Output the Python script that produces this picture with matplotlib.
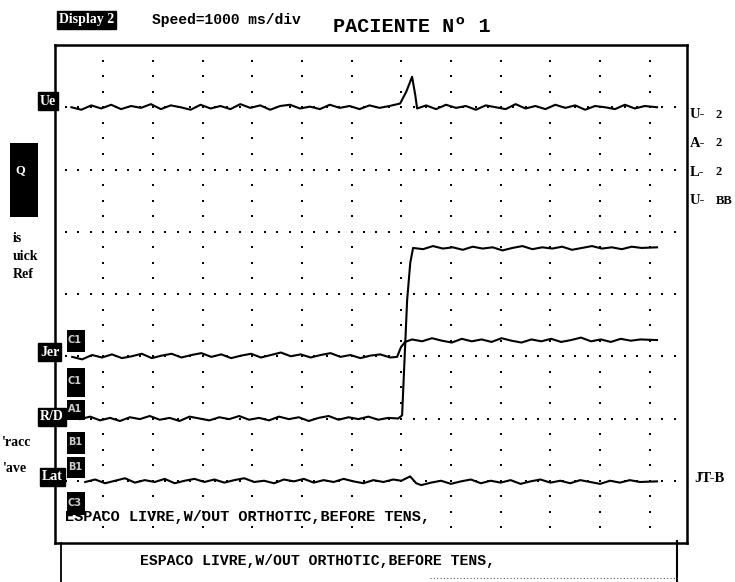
import numpy as np
import matplotlib.pyplot as plt
from matplotlib.patches import Rectangle

# trace data: time in ms (1000 ms/div), level in divisions (0 = bottom of screen)
t_ue = [360, 560, 760, 960, 1160, 1360, 1560, 1760, 1960, 2160, 2360, 2560, 2760, 2960, 3160, 3360, 3560,
        3760, 3960, 4160, 4360, 4560, 4760, 4960, 5160, 5360, 5560, 5760, 5960, 6160, 6360, 6560, 6760,
        6976, 7100, 7217, 7280, 7318,
        7500, 7700, 7900, 8100, 8300, 8500, 8700, 8900, 9100, 9300, 9500, 9700, 9900, 10100, 10300, 10500,
        10700, 10900, 11100, 11300, 11500, 11700, 11900, 12147]
v_ue = [7.0, 6.96, 7.03, 6.98, 7.04, 6.97, 7.02, 6.99, 7.05, 6.97, 7.03, 7.0, 6.96, 7.04, 6.98, 7.02, 6.97,
        7.05, 6.99, 7.03, 6.96, 7.02, 7.04, 6.98, 7.01, 6.97, 7.04, 6.99, 7.02, 6.97, 7.03, 6.99, 7.02,
        7.06, 7.25, 7.49, 7.2, 6.98,
        7.03, 6.97, 7.04, 6.99, 7.02, 6.96, 7.03, 7.0, 6.97, 7.05, 6.98, 7.02, 6.97, 7.04, 6.99, 7.03,
        6.96, 7.02, 7.0, 6.97, 7.04, 6.98, 7.02, 7.0]

t_jer = [376, 576, 776, 976, 1176, 1376, 1576, 1776, 1976, 2176, 2376, 2576, 2776, 2976, 3176, 3376, 3576,
         3776, 3976, 4176, 4376, 4576, 4776, 4976, 5176, 5376, 5576, 5776, 5976, 6176, 6376, 6576, 6776,
         6915, 6996, 7077, 7217,
         7417, 7617, 7817, 8017, 8217, 8417, 8617, 8817, 9017, 9217, 9417, 9617, 9817, 10017, 10217, 10417,
         10617, 10817, 11017, 11217, 11417, 11617, 11817, 12147]
v_jer = [2.99, 2.95, 3.02, 2.98, 3.03, 2.97, 3.0, 3.04, 2.97, 3.01, 3.04, 2.98, 3.02, 3.05, 2.99, 3.03, 2.97,
         3.01, 3.04, 2.98, 3.02, 3.06, 3.0, 3.03, 2.98, 3.02, 3.05, 2.99, 3.02, 2.97, 3.01, 3.03, 2.98,
         2.99, 3.15, 3.23, 3.27,
         3.24, 3.29, 3.25, 3.22, 3.28, 3.24, 3.27, 3.23, 3.29, 3.25, 3.22, 3.27, 3.24, 3.28, 3.23, 3.26,
         3.3, 3.24, 3.27, 3.23, 3.28, 3.25, 3.27, 3.26]

t_rd = [537, 737, 937, 1137, 1337, 1537, 1737, 1937, 2137, 2337, 2537, 2737, 2937, 3137, 3337, 3537,
        3737, 3937, 4137, 4337, 4537, 4737, 4937, 5137, 5337, 5537, 5737, 5937, 6137, 6337, 6537, 6737,
        6936, 7016, 7117, 7180, 7237,
        7437, 7637, 7837, 8037, 8237, 8437, 8637, 8837, 9037, 9237, 9437, 9637, 9837, 10037, 10237, 10437,
        10637, 10837, 11037, 11237, 11437, 11637, 11837, 12147]
v_rd = [1.99, 2.03, 1.97, 2.01, 1.96, 2.02, 1.99, 2.04, 1.98, 2.01, 1.96, 2.03, 2.0, 1.97, 2.02, 1.99,
        2.04, 1.98, 2.01, 1.97, 2.03, 1.99, 2.02, 1.96, 2.01, 2.04, 1.98, 2.02, 1.99, 2.03, 1.98, 2.01,
        2.0, 2.05, 3.9, 4.5, 4.74,
        4.72, 4.77, 4.73, 4.75, 4.71, 4.76, 4.73, 4.75, 4.7, 4.74, 4.77, 4.72, 4.75, 4.73, 4.76, 4.71,
        4.74, 4.77, 4.73, 4.75, 4.72, 4.76, 4.74, 4.75]

t_lat = [638, 838, 1038, 1238, 1438, 1638, 1838, 2038, 2238, 2438, 2638, 2838, 3038, 3238, 3438, 3638,
         3838, 4038, 4238, 4438, 4638, 4838, 5038, 5238, 5438, 5638, 5838, 6038, 6238, 6438, 6638, 6838,
         7000, 7177, 7300, 7400,
         7600, 7800, 8000, 8200, 8400, 8600, 8800, 9000, 9200, 9400, 9600, 9800, 10000, 10200, 10400,
         10600, 10800, 11000, 11200, 11400, 11600, 11800, 12147]
v_lat = [0.98, 1.02, 0.96, 1.0, 1.04, 0.97, 1.01, 0.98, 1.03, 0.96, 1.0, 1.03, 0.98, 1.02, 0.97, 1.01,
         1.04, 0.98, 1.0, 0.96, 1.02, 0.99, 1.03, 0.97, 1.01, 0.98, 1.03, 0.99, 0.96, 1.01, 0.98, 1.02,
         1.0, 1.07, 0.96, 0.93,
         0.97, 1.0, 0.95, 0.99, 1.02, 0.96, 1.0, 0.97, 1.01, 0.95, 0.99, 1.02, 0.97, 1.0, 0.96,
         1.01, 0.98, 0.95, 1.0, 0.97, 1.01, 0.98, 0.99]

header = "Speed=1000 ms/div"
title = "PACIENTE Nº 1"
comment = "ESPACO LIVRE,W/OUT ORTHOTIC,BEFORE TENS,"
right_labels = [("U-", "2"), ("A-", "2"), ("L-", "2"), ("U-", "BB")]

W, H = 735, 582
fig = plt.figure(figsize=(W / 100, H / 100), dpi=100)
ax = fig.add_axes([55 / W, 1 - 543 / H, 632 / W, 498 / H])
ax.set_xlim(30, 12750)
ax.set_ylim(0, 8)
ax.set_xticks([])
ax.set_yticks([])
for s in ax.spines.values():
    s.set_linewidth(1.8)

# dotted graticule
for gx in range(1000, 12001, 1000):
    gy = np.arange(0.25, 8, 0.25)
    ax.plot(np.full_like(gy, gx), gy, ls='none', marker='s', ms=1.5, mew=0, color='k')
for gy in range(1, 8):
    gx = np.arange(250, 12750, 250)
    ax.plot(gx, np.full_like(gx, gy, dtype=float), ls='none', marker='s', ms=1.5, mew=0, color='k')

for t, v in [(t_ue, v_ue), (t_jer, v_jer), (t_rd, v_rd), (t_lat, v_lat)]:
    ax.plot(t, v, color='k', lw=1.5)


def put(px, py, s, **kw):
    kw.setdefault('va', 'center')
    return fig.text(px / W, 1 - py / H, s, **kw)


def tag(px, py, s, size=10):
    put(px, py, s, color='white', fontsize=size, fontweight='bold', family='Liberation Serif',
        bbox=dict(facecolor='black', edgecolor='black', boxstyle='square,pad=0.15'))


mono = dict(family='Liberation Mono', fontweight='bold')
tag(59, 20, "Display 2", size=10)
put(152, 20, header, fontsize=10.5, **mono)
put(333, 27, title, fontsize=14.5, **mono)

tag(40, 101, "Ue")
tag(40, 352, "Jer")
tag(40, 417, "R/D")
tag(42, 477, "Lat")
for y0, y1, s in [(328, 352, "C1"), (366, 397, "C1"), (398, 420, "A1"),
                  (430, 454, "B1"), (455, 478, "B1"), (490, 515, "C3")]:
    fig.add_artist(Rectangle((67 / W, 1 - y1 / H), 18 / W, (y1 - y0 - 2) / H,
                             transform=fig.transFigure, facecolor='black', zorder=5))
    put(68, (y0 + y1) / 2, s, color='#cccccc', fontsize=7, fontweight='bold', zorder=6)

fig.add_artist(Rectangle((10 / W, 1 - 217 / H), 28 / W, 74 / H,
                         transform=fig.transFigure, facecolor='black'))
put(15, 170, "Q", color='white', fontsize=9, fontweight='bold', family='Liberation Serif')

for py, s in [(238, "is"), (257, "uick"), (275, "Ref")]:
    put(13, py, s, fontsize=10, fontweight='bold', family='Liberation Serif')
put(2, 442, "'racc", fontsize=10, fontweight='bold', family='Liberation Serif')
put(3, 469, "'ave", fontsize=10, fontweight='bold', family='Liberation Serif')

for i, (a, b) in enumerate(right_labels):
    py = 115 + i * 28.5
    put(690, py, a, fontsize=10.5, fontweight='bold', family='Liberation Serif')
    put(716, py, b, fontsize=9, fontweight='bold', family='Liberation Serif')
put(694, 478, "JT-B", fontsize=10.5, fontweight='bold', family='Liberation Serif')

put(65, 517, comment, fontsize=11, **mono)
put(140, 561, comment, fontsize=10.6, **mono)

# lower frame
fig.add_artist(plt.Line2D([61 / W, 61 / W], [1 - 543 / H, 0], transform=fig.transFigure, color='k', lw=1.3))
fig.add_artist(plt.Line2D([677 / W, 677 / W], [1 - 541 / H, 0], transform=fig.transFigure, color='k', lw=1.5))
fig.add_artist(plt.Line2D([430 / W, 677 / W], [1 - 578 / H, 1 - 578 / H], transform=fig.transFigure,
                          color='#555555', lw=0.8, ls=(0, (1, 2))))

fig.savefig('out.png', dpi=100)
